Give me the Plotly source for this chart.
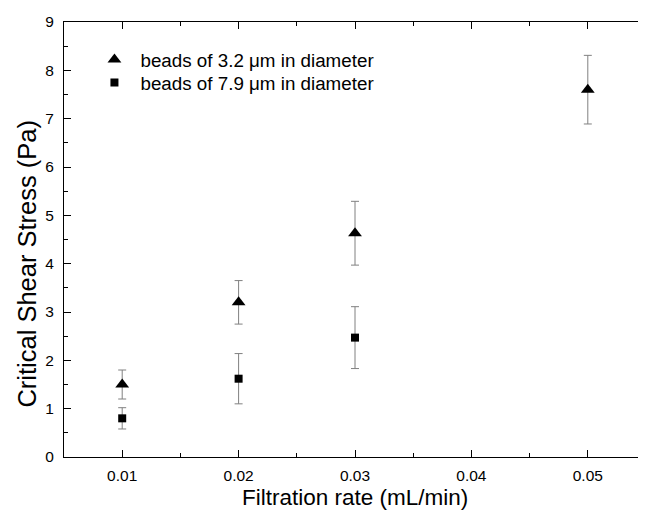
import plotly.graph_objects as go

rate = [0.01, 0.02, 0.03, 0.05]
stress_32 = [1.50, 3.20, 4.63, 7.60]
err_32 = [0.30, 0.45, 0.66, 0.71]

rate_79 = [0.01, 0.02, 0.03]
stress_79 = [0.80, 1.62, 2.47]
err_79 = [0.22, 0.52, 0.64]

x_ticks = [0.01, 0.02, 0.03, 0.04, 0.05]
y_ticks = list(range(0, 10))

FONT = "Liberation Sans, Arial, sans-serif"

fig = go.Figure()
fig.add_trace(go.Scatter(
    x=rate, y=stress_32, mode="markers",
    name="beads of 3.2 \u03bcm in diameter", legend="legend",
    marker=dict(symbol="triangle-up", size=12, color="black"),
    error_y=dict(type="data", array=err_32, color="#808080", thickness=1, width=4),
))
fig.add_trace(go.Scatter(
    x=rate_79, y=stress_79, mode="markers",
    name="beads of 7.9 \u03bcm in diameter", legend="legend2",
    marker=dict(symbol="square", size=8, color="black"),
    error_y=dict(type="data", array=err_79, color="#808080", thickness=1, width=4),
))

axis_common = dict(
    showgrid=False, zeroline=False, showline=True, linecolor="black", linewidth=1.3,
    ticks="inside", ticklen=7, tickwidth=1.2, tickcolor="black", mirror="ticks",
    tickfont=dict(family=FONT, size=15.5, color="black"),
)

fig.update_xaxes(
    range=[0.005, 0.055], tickvals=x_ticks, ticktext=[f"{v:.2f}" for v in x_ticks],
    minor=dict(dtick=0.005, ticklen=4, tickwidth=1.2, tickcolor="black", ticks="inside"),
    ticklabelstandoff=4,
    **axis_common,
)
fig.update_yaxes(
    range=[0, 9], tickvals=y_ticks,
    minor=dict(dtick=0.5, ticklen=4, tickwidth=1.2, tickcolor="black", ticks="inside"),
    ticklabelstandoff=6,
    **axis_common,
)

fig.add_annotation(
    text="Filtration rate (mL/min)", xref="paper", yref="paper",
    x=0.5, y=-0.092, xanchor="center", yanchor="middle", showarrow=False,
    font=dict(family=FONT, size=22.5, color="black"),
)
fig.add_annotation(
    text="Critical Shear Stress (Pa)", xref="paper", yref="paper",
    x=-0.064, y=0.444, xanchor="center", yanchor="middle", showarrow=False,
    textangle=-90, font=dict(family=FONT, size=25.5, color="black"),
)

legend_style = dict(xanchor="left", yanchor="top", bgcolor="rgba(0,0,0,0)",
                    font=dict(family=FONT, size=18.8, color="black"), itemwidth=42)

fig.update_layout(
    width=638, height=503,
    margin=dict(l=56, r=0, t=14, b=54),
    plot_bgcolor="white", paper_bgcolor="white",
    font=dict(family=FONT, color="black"),
    showlegend=True,
    legend=dict(x=0.042, y=0.957, **legend_style),
    legend2=dict(x=0.042, y=0.904, **legend_style),
)

fig.write_html("out.html")
